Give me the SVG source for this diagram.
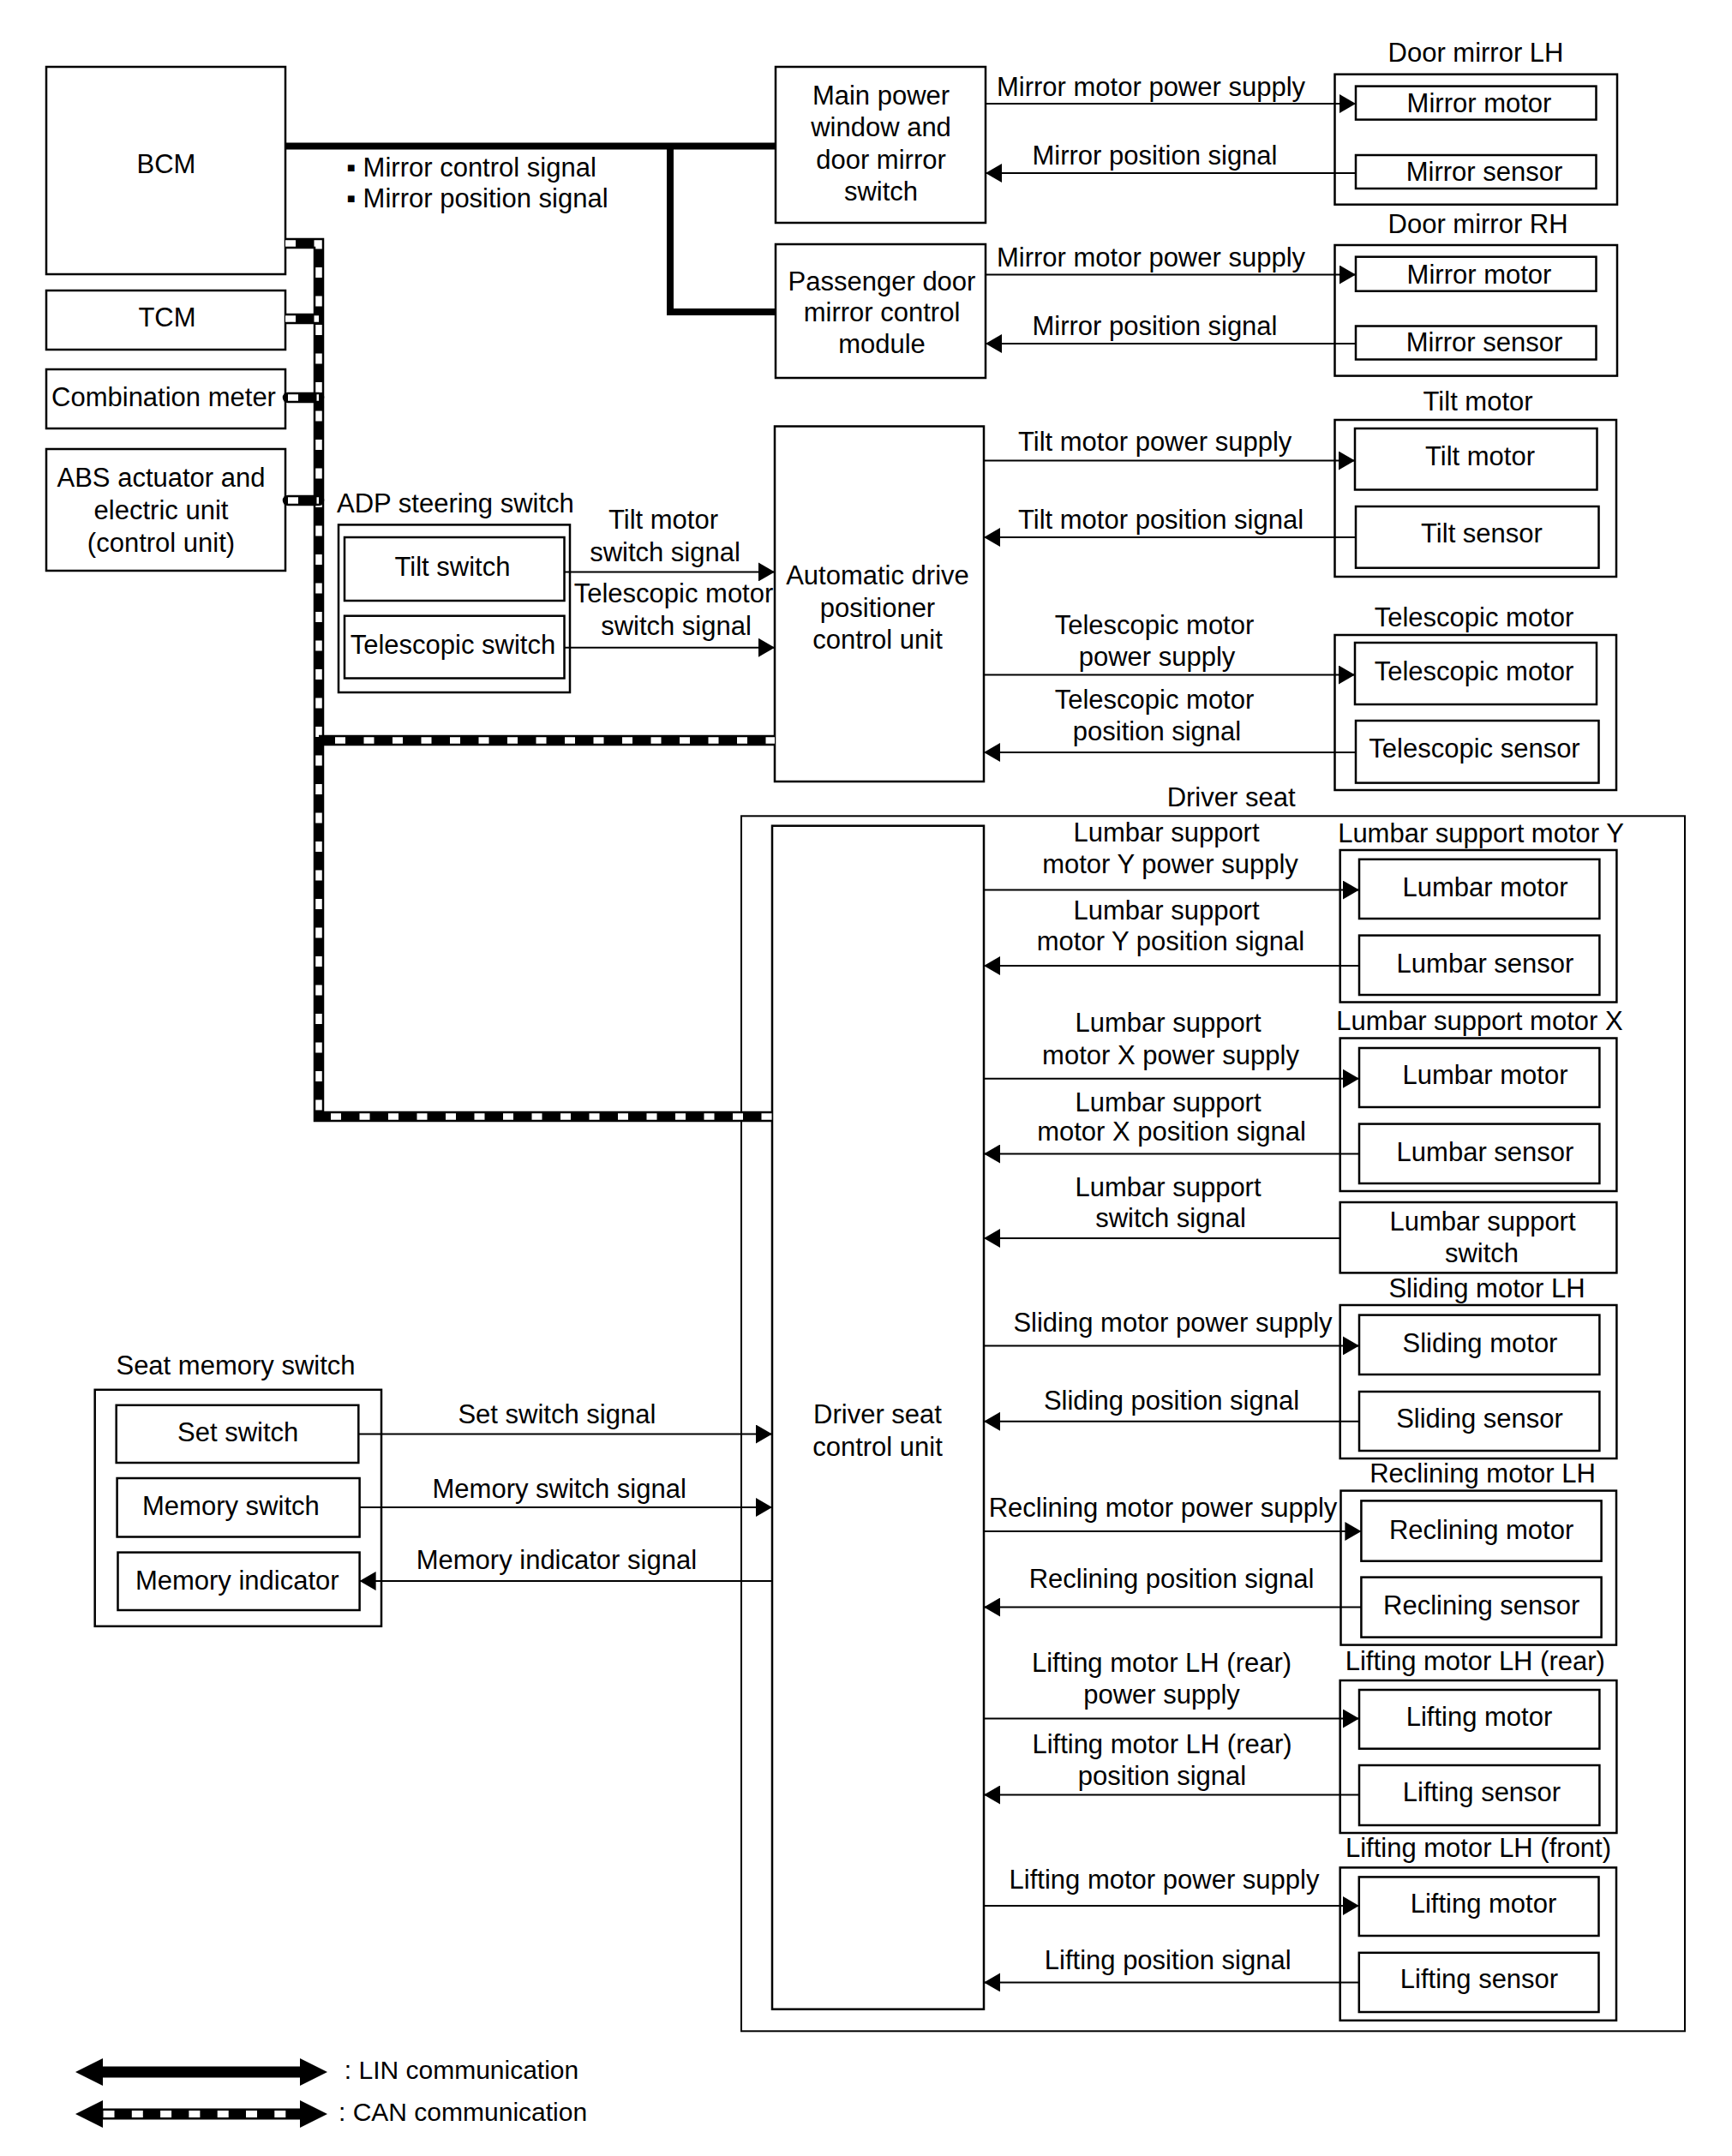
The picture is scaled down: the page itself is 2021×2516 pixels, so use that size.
<svg xmlns="http://www.w3.org/2000/svg" width="2021" height="2516" viewBox="0 0 2021 2516">
<style>
.b{fill:none;stroke:#000;stroke-width:2.5}
.o{fill:none;stroke:#000;stroke-width:2}
.t{font-family:"Liberation Sans",Arial,Helvetica,sans-serif;font-size:31px;fill:#000}
.m{text-anchor:middle}
.lg{font-size:30px}
.c{fill:none;stroke:#000;stroke-width:2}
.ca{fill:none;stroke:#000;stroke-width:2;marker-end:url(#ah)}
.lin{fill:none;stroke:#000;stroke-width:8}
.canb{fill:none;stroke:#000;stroke-width:12.5}
.canw{fill:none;stroke:#fff;stroke-width:7.5;stroke-dasharray:12 21.5}
</style>
<defs>
<marker id="ah" markerWidth="19" markerHeight="22" refX="19" refY="11" orient="auto" markerUnits="userSpaceOnUse"><path d="M0,0 L19,11 L0,22 Z" fill="#000"/></marker>
</defs>
<rect width="2021" height="2516" fill="#fff"/>

<g id="bcm"><rect class="b" x="54" y="78" width="279" height="242"/><text class="t m" x="194" y="202">BCM</text></g>
<g id="tcm"><rect class="b" x="54" y="339" width="279" height="69"/><text class="t m" x="195" y="381">TCM</text></g>
<g id="combination-meter"><rect class="b" x="54" y="431" width="279" height="69"/><text class="t m" x="191" y="473.5">Combination meter</text></g>
<g id="abs"><rect class="b" x="54" y="524" width="279" height="142"/><text class="t m" x="188" y="568">ABS actuator and</text><text class="t m" x="188" y="606">electric unit</text><text class="t m" x="188" y="644">(control unit)</text></g>

<g id="main-power-window"><rect class="b" x="905" y="78" width="245" height="182"/><text class="t m" x="1028" y="122">Main power</text><text class="t m" x="1028" y="159">window and</text><text class="t m" x="1028" y="197">door mirror</text><text class="t m" x="1028" y="234">switch</text></g>
<g id="passenger-door-module"><rect class="b" x="905" y="285" width="245" height="156"/><text class="t m" x="1029" y="339">Passenger door</text><text class="t m" x="1029" y="375">mirror control</text><text class="t m" x="1029" y="412">module</text></g>
<g id="adp-control-unit"><rect class="b" x="904" y="497.5" width="244" height="414.5"/><text class="t m" x="1024" y="682">Automatic drive</text><text class="t m" x="1024" y="720">positioner</text><text class="t m" x="1024" y="757">control unit</text></g>

<g id="door-mirror-lh"><text class="t m" x="1722" y="72">Door mirror LH</text><rect class="b" x="1557.5" y="86.7" width="329.5" height="152"/>
<rect class="b" x="1582" y="100.6" width="280.5" height="39"/><text class="t m" x="1726" y="130.5">Mirror motor</text>
<rect class="b" x="1582" y="181" width="280.5" height="39"/><text class="t m" x="1732" y="210.5">Mirror sensor</text></g>
<g id="door-mirror-rh"><text class="t m" x="1724.6" y="271.5">Door mirror RH</text><rect class="b" x="1557.5" y="286" width="329.5" height="152.6"/>
<rect class="b" x="1582" y="299.7" width="280.5" height="40"/><text class="t m" x="1726" y="330.5">Mirror motor</text>
<rect class="b" x="1582" y="380.5" width="280.5" height="39"/><text class="t m" x="1732" y="410.4">Mirror sensor</text></g>
<g id="tilt-motor"><text class="t m" x="1724.6" y="479">Tilt motor</text><rect class="b" x="1557.5" y="490" width="328.5" height="183"/>
<rect class="b" x="1581" y="500" width="282.5" height="71.5"/><text class="t m" x="1727" y="543">Tilt motor</text>
<rect class="b" x="1582" y="591" width="283.5" height="71.7"/><text class="t m" x="1729" y="633.4">Tilt sensor</text></g>
<g id="telescopic-motor"><text class="t m" x="1720" y="730.5">Telescopic motor</text><rect class="b" x="1557.5" y="741" width="328.5" height="181"/>
<rect class="b" x="1581" y="750" width="282" height="72"/><text class="t m" x="1720" y="793.6">Telescopic motor</text>
<rect class="b" x="1582" y="841" width="283.5" height="72.6"/><text class="t m" x="1720.5" y="884">Telescopic sensor</text></g>

<g id="adp-steering-switch"><text class="t" x="393" y="598">ADP steering switch</text><rect class="b" x="395" y="612.4" width="270" height="195.6"/>
<rect class="b" x="402" y="627" width="256.5" height="74"/><text class="t m" x="528" y="671.6">Tilt switch</text>
<rect class="b" x="402" y="718.7" width="256.5" height="72.8"/><text class="t m" x="528.4" y="763">Telescopic switch</text></g>

<g id="driver-seat"><text class="t m" x="1436.6" y="941">Driver seat</text><rect class="o" x="865" y="952.3" width="1101" height="1418"/></g>
<g id="driver-seat-control-unit"><rect class="b" x="901" y="963.7" width="247" height="1381"/><text class="t m" x="1024" y="1661">Driver seat</text><text class="t m" x="1024" y="1699">control unit</text></g>

<g id="lumbar-support-motor-y"><text class="t m" x="1728" y="983">Lumbar support motor Y</text><rect class="b" x="1563.7" y="992" width="322.7" height="177.5"/>
<rect class="b" x="1586" y="1002.8" width="280.4" height="69.2"/><text class="t m" x="1733" y="1046">Lumbar motor</text>
<rect class="b" x="1586" y="1091.6" width="280.4" height="69.4"/><text class="t m" x="1733" y="1134.5">Lumbar sensor</text></g>
<g id="lumbar-support-motor-x"><text class="t m" x="1726.5" y="1202">Lumbar support motor X</text><rect class="b" x="1563.7" y="1211.5" width="322.7" height="178.5"/>
<rect class="b" x="1586" y="1223" width="280.4" height="69"/><text class="t m" x="1733" y="1265">Lumbar motor</text>
<rect class="b" x="1586" y="1311.6" width="280.4" height="69.4"/><text class="t m" x="1733" y="1355">Lumbar sensor</text></g>
<g id="lumbar-support-switch"><rect class="b" x="1563.7" y="1403" width="322.7" height="82.4"/><text class="t m" x="1730" y="1435.7">Lumbar support</text><text class="t m" x="1729" y="1472.8">switch</text></g>
<g id="sliding-motor-lh"><text class="t m" x="1735" y="1513.6">Sliding motor LH</text><rect class="b" x="1563.7" y="1523" width="322.7" height="179"/>
<rect class="b" x="1586" y="1534.6" width="280.4" height="69.4"/><text class="t m" x="1727" y="1578">Sliding motor</text>
<rect class="b" x="1586" y="1624" width="280.4" height="69"/><text class="t m" x="1726.5" y="1666">Sliding sensor</text></g>
<g id="reclining-motor-lh"><text class="t m" x="1730" y="1729.5">Reclining motor LH</text><rect class="b" x="1564.5" y="1739.6" width="321.5" height="180"/>
<rect class="b" x="1588.4" y="1751.4" width="280.2" height="70.3"/><text class="t m" x="1728.6" y="1795.6">Reclining motor</text>
<rect class="b" x="1588.4" y="1840.6" width="280.2" height="70"/><text class="t m" x="1728.7" y="1884">Reclining sensor</text></g>
<g id="lifting-motor-lh-rear"><text class="t m" x="1721.3" y="1949">Lifting motor LH (rear)</text><rect class="b" x="1563.7" y="1961" width="322.7" height="178"/>
<rect class="b" x="1586" y="1972" width="280.4" height="68.7"/><text class="t m" x="1726" y="2014">Lifting motor</text>
<rect class="b" x="1586" y="2060" width="280.4" height="70"/><text class="t m" x="1729" y="2102">Lifting sensor</text></g>
<g id="lifting-motor-lh-front"><text class="t m" x="1725" y="2167">Lifting motor LH (front)</text><rect class="b" x="1563.7" y="2179.4" width="322.3" height="178.4"/>
<rect class="b" x="1585.8" y="2190.4" width="279.7" height="68.6"/><text class="t m" x="1731" y="2232">Lifting motor</text>
<rect class="b" x="1585.8" y="2278.8" width="279.7" height="69.2"/><text class="t m" x="1726" y="2320">Lifting sensor</text></g>

<g id="seat-memory-switch"><text class="t m" x="275" y="1604">Seat memory switch</text><rect class="b" x="110.7" y="1621.8" width="334.3" height="276"/>
<rect class="b" x="135.7" y="1639.8" width="282.6" height="67.2"/><text class="t m" x="277.7" y="1682">Set switch</text>
<rect class="b" x="136.6" y="1725" width="283" height="68.5"/><text class="t m" x="269.4" y="1768.2">Memory switch</text>
<rect class="b" x="137.5" y="1811.6" width="282.1" height="67.4"/><text class="t m" x="276.8" y="1854.5">Memory indicator</text></g>

<g id="connectors">
<path class="lin" d="M333,170.5 H905"/>
<path class="lin" d="M782,170.5 V364 H905"/>
<text class="t" x="404" y="206">▪ Mirror control signal</text>
<text class="t" x="404" y="242">▪ Mirror position signal</text>

<path class="canb" d="M333,284 H372 V1303 H901"/>
<path class="canw" d="M333,284 H372 V1303 H901"/>
<path class="canb" d="M333,372 H372"/><path class="canw" d="M333,372 H372"/>
<path class="canb" d="M336,464 H372" stroke-linecap="round"/><path class="canw" d="M336,464 H372"/>
<path class="canb" d="M336,584 H372" stroke-linecap="round"/><path class="canw" d="M336,584 H372"/>
<path class="canb" d="M372,864 H904"/><path class="canw" d="M372,864 H904" stroke-dashoffset="14.5"/>

<line class="ca" x1="1150" y1="121" x2="1582" y2="121"/>
<text class="t" x="1163" y="111.5">Mirror motor power supply</text>
<line class="ca" x1="1582" y1="202" x2="1150" y2="202"/>
<text class="t" x="1204.5" y="191.5">Mirror position signal</text>
<line class="ca" x1="1150" y1="320.5" x2="1582" y2="320.5"/>
<text class="t" x="1163" y="311">Mirror motor power supply</text>
<line class="ca" x1="1582" y1="401" x2="1150" y2="401"/>
<text class="t" x="1204.5" y="391">Mirror position signal</text>

<line class="ca" x1="1148" y1="537.5" x2="1581" y2="537.5"/>
<text class="t" x="1188" y="526">Tilt motor power supply</text>
<line class="ca" x1="1582" y1="627" x2="1148" y2="627"/>
<text class="t" x="1188" y="616.5">Tilt motor position signal</text>
<line class="ca" x1="1148" y1="787.5" x2="1581" y2="787.5"/>
<text class="t m" x="1347" y="740">Telescopic motor</text><text class="t m" x="1350" y="777">power supply</text>
<line class="ca" x1="1582" y1="878" x2="1148" y2="878"/>
<text class="t m" x="1347" y="827">Telescopic motor</text><text class="t m" x="1350" y="864">position signal</text>

<line class="ca" x1="658.5" y1="667.4" x2="904" y2="667.4"/>
<text class="t m" x="774" y="617">Tilt motor</text><text class="t m" x="776" y="654.5">switch signal</text>
<line class="ca" x1="658.5" y1="755.7" x2="904" y2="755.7"/>
<text class="t m" x="786" y="703">Telescopic motor</text><text class="t m" x="789" y="741">switch signal</text>

<line class="ca" x1="1148" y1="1038.6" x2="1586" y2="1038.6"/>
<text class="t m" x="1361" y="981.7">Lumbar support</text><text class="t m" x="1365.5" y="1018.8">motor Y power supply</text>
<line class="ca" x1="1586" y1="1127" x2="1148" y2="1127"/>
<text class="t m" x="1361" y="1072.7">Lumbar support</text><text class="t m" x="1366" y="1109.3">motor Y position signal</text>
<line class="ca" x1="1148" y1="1258.7" x2="1586" y2="1258.7"/>
<text class="t m" x="1363" y="1204">Lumbar support</text><text class="t m" x="1366" y="1242">motor X power supply</text>
<line class="ca" x1="1586" y1="1346.5" x2="1148" y2="1346.5"/>
<text class="t m" x="1363" y="1296.6">Lumbar support</text><text class="t m" x="1367" y="1330.5">motor X position signal</text>
<line class="ca" x1="1563.7" y1="1445" x2="1148" y2="1445"/>
<text class="t m" x="1363" y="1395.7">Lumbar support</text><text class="t m" x="1366" y="1432.4">switch signal</text>

<line class="ca" x1="1148" y1="1570.4" x2="1586" y2="1570.4"/>
<text class="t m" x="1368.5" y="1553.6">Sliding motor power supply</text>
<line class="ca" x1="1586" y1="1658.8" x2="1148" y2="1658.8"/>
<text class="t m" x="1367" y="1645">Sliding position signal</text>
<line class="ca" x1="1148" y1="1787" x2="1588.4" y2="1787"/>
<text class="t m" x="1357" y="1770">Reclining motor power supply</text>
<line class="ca" x1="1588.4" y1="1875.5" x2="1148" y2="1875.5"/>
<text class="t m" x="1367" y="1853">Reclining position signal</text>
<line class="ca" x1="1148" y1="2005.5" x2="1586" y2="2005.5"/>
<text class="t m" x="1355.5" y="1951">Lifting motor LH (rear)</text><text class="t m" x="1355.5" y="1988.4">power supply</text>
<line class="ca" x1="1586" y1="2094.5" x2="1148" y2="2094.5"/>
<text class="t m" x="1356" y="2046">Lifting motor LH (rear)</text><text class="t m" x="1356" y="2082.7">position signal</text>
<line class="ca" x1="1148" y1="2224" x2="1585.8" y2="2224"/>
<text class="t m" x="1358.5" y="2203.7">Lifting motor power supply</text>
<line class="ca" x1="1585.8" y1="2313.4" x2="1148" y2="2313.4"/>
<text class="t m" x="1362.7" y="2298">Lifting position signal</text>

<line class="ca" x1="418.3" y1="1673.5" x2="901" y2="1673.5"/>
<text class="t" x="534.4" y="1661">Set switch signal</text>
<line class="ca" x1="419.6" y1="1759" x2="901" y2="1759"/>
<text class="t" x="504.5" y="1748">Memory switch signal</text>
<line class="ca" x1="901" y1="1845" x2="419.6" y2="1845"/>
<text class="t" x="485.7" y="1831.3">Memory indicator signal</text>
</g>

<g id="legend">
<rect x="119" y="2411.5" width="232" height="13" fill="#000"/>
<polygon points="88,2418 120,2402 120,2434" fill="#000"/>
<polygon points="382,2418 350,2402 350,2434" fill="#000"/>
<text class="t lg" x="401.8" y="2425.7">: LIN communication</text>
<rect x="119" y="2460.5" width="232" height="13" fill="#000"/>
<polygon points="88,2467 120,2451 120,2483" fill="#000"/>
<polygon points="382,2467 350,2451 350,2483" fill="#000"/>
<g fill="#fff"><rect x="120.5" y="2463" width="13" height="8"/><rect x="153.8" y="2463" width="13" height="8"/><rect x="187.1" y="2463" width="13" height="8"/><rect x="220.4" y="2463" width="13" height="8"/><rect x="253.7" y="2463" width="13" height="8"/><rect x="287" y="2463" width="13" height="8"/><rect x="320.3" y="2463" width="13" height="8"/></g>
<text class="t lg" x="395" y="2474.5">: CAN communication</text>
</g>
</svg>
